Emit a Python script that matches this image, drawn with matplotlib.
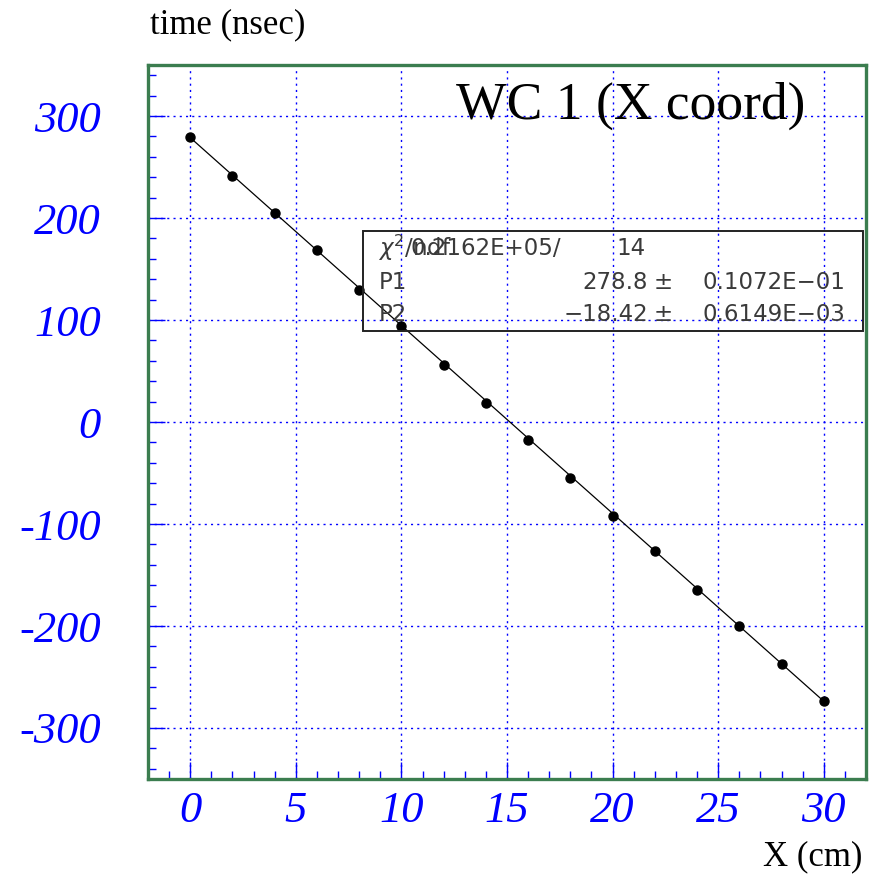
import matplotlib
matplotlib.use("Agg")
import matplotlib.pyplot as plt
import numpy as np

# measured points (x in cm, time in nsec)
x_cm = [0, 2, 4, 6, 8, 10, 12, 14, 16, 18, 20, 22, 24, 26, 28, 30]
t_ns = [279, 241, 205, 169, 129, 94, 56, 19, -18, -55, -92, -126, -165, -200, -237, -274]

# fit results shown in the stats box
p1, p1_err = 278.8, "0.1072E-01"
p2, p2_err = -18.42, "0.6149E-03"
chi2_txt, ndf = "0.2162E+05/", 14

xticks = [0, 5, 10, 15, 20, 25, 30]
yticks = [-300, -200, -100, 0, 100, 200, 300]

blue = "#0000ff"
green = "#3b7d4f"
serif = "Liberation Serif"
sans = "DejaVu Sans"

fig = plt.figure(figsize=(8.82, 8.74), dpi=100)
ax = fig.add_axes([0.1678, 0.1087, 0.8141, 0.8169])

# fit line and data points
xf = np.array([x_cm[0], x_cm[-1]])
ax.plot(xf, p1 + p2 * xf, color="black", linewidth=0.9, zorder=3)
ax.plot(x_cm, t_ns, "o", color="black", markersize=6.5, zorder=4)

ax.set_xlim(-2, 32)
ax.set_ylim(-350, 350)
tick_font = dict(family=serif, style="italic", size=32, color=blue)
ax.set_xticks(xticks)
ax.set_xticklabels([str(v) for v in xticks], **tick_font)
ax.set_yticks(yticks)
ax.set_yticklabels([str(v) for v in yticks], **tick_font)
ax.set_xticks(np.arange(-1, 32, 1), minor=True)
ax.set_yticks(np.arange(-340, 350, 20), minor=True)
ax.grid(True, which="major", color=blue, linestyle=(0, (1.5, 3)), linewidth=1.0)

ax.tick_params(which="both", direction="in", color=blue, top=False, right=False)
ax.tick_params(which="major", length=12, width=1)
ax.tick_params(which="minor", length=6, width=1)
ax.tick_params(axis="x", which="major", pad=9)
ax.tick_params(axis="y", which="major", pad=34)

for sp in ax.spines.values():
    sp.set_color(green)
    sp.set_linewidth(2.4)

# axis titles
fig.text(150 / 882, 1 - 25 / 874, "time (nsec)", family=serif, fontsize=25,
         ha="left", va="center")
fig.text(862 / 882, 1 - 857 / 874, "X (cm)", family=serif, fontsize=25,
         ha="right", va="center")

# title
ax.text((805 - 148) / 718, (779 - 106) / 714, "WC 1 (X coord)", transform=ax.transAxes,
        family=serif, fontsize=38.5, ha="right", va="center")

# stats box
def axx(px):
    return (px - 148) / 718

def axy(py):
    return (779 - py) / 714

ax.add_patch(plt.Rectangle((axx(363), axy(331)), axx(863) - axx(363), axy(231) - axy(331),
                           transform=ax.transAxes, fill=False, edgecolor="#222222",
                           linewidth=1.4, zorder=5))
gray = "#3a3a3a"
rows_y = [axy(248), axy(282), axy(314)]
kw = dict(transform=ax.transAxes, family=sans, fontsize=16.5, color=gray,
          va="center", zorder=6)
ax.text(axx(378), rows_y[0], r"$\chi^2$/ndf", ha="left", **kw)
ax.text(axx(410), rows_y[0], chi2_txt, ha="left", **kw)
ax.text(axx(646), rows_y[0], str(ndf), ha="right", **kw)
ax.text(axx(379), rows_y[1], "P1", ha="left", **kw)
ax.text(axx(648), rows_y[1], f"{p1:.1f}", ha="right", **kw)
ax.text(axx(663), rows_y[1], "\u00b1", ha="center", **kw)
ax.text(axx(845), rows_y[1], p1_err.replace("-", "\u2212"), ha="right", **kw)
ax.text(axx(379), rows_y[2], "P2", ha="left", **kw)
ax.text(axx(648), rows_y[2], f"{p2:.2f}".replace("-", "\u2212"), ha="right", **kw)
ax.text(axx(663), rows_y[2], "\u00b1", ha="center", **kw)
ax.text(axx(845), rows_y[2], p2_err.replace("-", "\u2212"), ha="right", **kw)

fig.savefig("out.png", dpi=100)
